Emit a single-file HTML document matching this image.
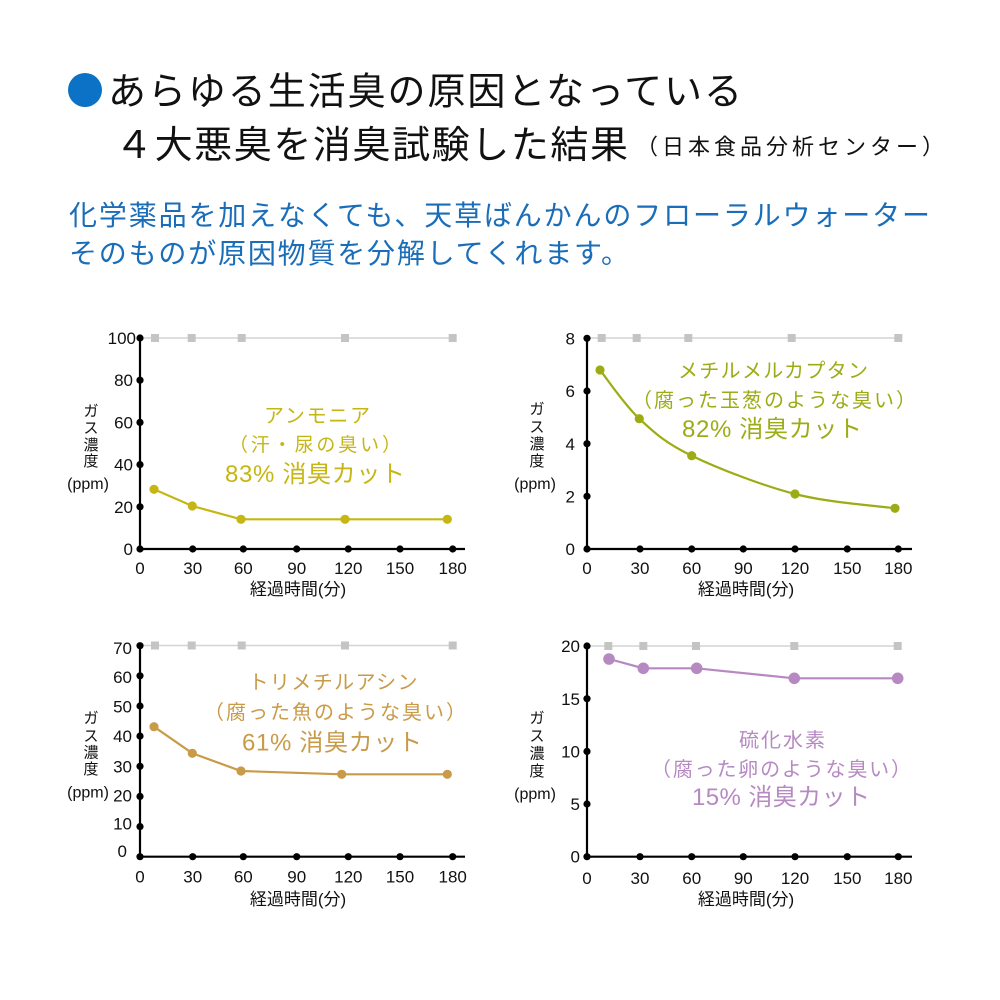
<!DOCTYPE html>
<html><head><meta charset="utf-8"><style>
html,body{margin:0;padding:0;background:#fff;}
svg{display:block;}
text{font-family:"Liberation Sans","Noto Sans CJK JP",sans-serif;}
</style></head><body>
<svg width="1000" height="1000" viewBox="0 0 1000 1000" xmlns="http://www.w3.org/2000/svg">
<rect width="1000" height="1000" fill="#fff"/>
<!-- Title -->
<circle cx="85" cy="90" r="17" fill="#0b72c6"/>
<text x="108" y="104.5" font-size="38" fill="#111" textLength="634" lengthAdjust="spacing">あらゆる生活臭の原因となっている</text>
<text x="115" y="158" font-size="38" fill="#111" textLength="513" lengthAdjust="spacing">４大悪臭を消臭試験した結果</text>
<text x="636" y="154.5" font-size="22" fill="#111" textLength="308" lengthAdjust="spacing">（日本食品分析センター）</text>
<!-- Subtitle -->
<text x="69" y="225" font-size="28" fill="#1a6db8" textLength="861" lengthAdjust="spacing">化学薬品を加えなくても、天草ばんかんのフローラルウォーター</text>
<text x="69" y="263" font-size="28" fill="#1a6db8" textLength="560" lengthAdjust="spacing">そのものが原因物質を分解してくれます。</text>

<!-- ===== Chart 1 ===== -->
<g>
<line x1="140" y1="338" x2="453" y2="338" stroke="#d4d4d4" stroke-width="1.5"/>
<g fill="#c4c4c4"><rect x="151" y="334" width="8" height="8"/><rect x="187.7" y="334" width="8" height="8"/><rect x="237.7" y="334" width="8" height="8"/><rect x="341" y="334" width="8" height="8"/><rect x="448.7" y="334" width="8" height="8"/></g>
<line x1="140" y1="336" x2="140" y2="550" stroke="#000" stroke-width="2.2"/>
<line x1="139" y1="549" x2="465" y2="549" stroke="#000" stroke-width="2.2"/>
<g fill="#000">
<circle cx="140" cy="338" r="3.6"/><circle cx="140" cy="380.2" r="3.6"/><circle cx="140" cy="422.4" r="3.6"/><circle cx="140" cy="464.6" r="3.6"/><circle cx="140" cy="506.8" r="3.6"/><circle cx="140" cy="549" r="3.6"/>
<circle cx="192.7" cy="549" r="3.6"/><circle cx="243.3" cy="549" r="3.6"/><circle cx="296.7" cy="549" r="3.6"/><circle cx="348.3" cy="549" r="3.6"/><circle cx="400" cy="549" r="3.6"/><circle cx="452.7" cy="549" r="3.6"/>
</g>
<g font-size="17" fill="#111" text-anchor="end">
<text x="136" y="344">100</text><text x="133" y="386">80</text><text x="133" y="428.5">60</text><text x="133" y="470.5">40</text><text x="133" y="513">20</text><text x="133" y="555">0</text>
</g>
<g font-size="17" fill="#111" text-anchor="middle">
<text x="140" y="574">0</text><text x="192.7" y="574">30</text><text x="243.3" y="574">60</text><text x="296.7" y="574">90</text><text x="348.3" y="574">120</text><text x="400" y="574">150</text><text x="452.7" y="574">180</text>
</g>
<text x="298" y="595" font-size="17" fill="#111" text-anchor="middle">経過時間(分)</text>
<g font-size="15" fill="#111" text-anchor="middle">
<text x="91" y="416">ガ</text><text x="91" y="433">ス</text><text x="91" y="450">濃</text><text x="91" y="466">度</text>
</g>
<text x="88" y="489" font-size="16" fill="#111" text-anchor="middle">(ppm)</text>
<polyline points="154,489.3 192.3,506 241,519.3 345,519.3 447.3,519.3" fill="none" stroke="#c6b614" stroke-width="2.2"/>
<g fill="#c6b614"><circle cx="154" cy="489.3" r="4.6"/><circle cx="192.3" cy="506" r="4.6"/><circle cx="241" cy="519.3" r="4.6"/><circle cx="345" cy="519.3" r="4.6"/><circle cx="447.3" cy="519.3" r="4.6"/></g>
<g fill="#c6b614" text-anchor="middle">
<text x="317" y="422.5" font-size="20" textLength="106" lengthAdjust="spacing">アンモニア</text>
<text x="315" y="451" font-size="19" textLength="172" lengthAdjust="spacing">（汗・尿の臭い）</text>
<text x="315" y="482" font-size="24" textLength="180" lengthAdjust="spacing">83% 消臭カット</text>
</g>
</g>

<!-- ===== Chart 2 ===== -->
<g>
<line x1="587" y1="338" x2="898" y2="338" stroke="#d4d4d4" stroke-width="1.5"/>
<g fill="#c4c4c4"><rect x="597.7" y="334" width="8" height="8"/><rect x="632.7" y="334" width="8" height="8"/><rect x="684.3" y="334" width="8" height="8"/><rect x="787.7" y="334" width="8" height="8"/><rect x="894.3" y="334" width="8" height="8"/></g>
<line x1="587" y1="336" x2="587" y2="550" stroke="#000" stroke-width="2.2"/>
<line x1="586" y1="549" x2="912" y2="549" stroke="#000" stroke-width="2.2"/>
<g fill="#000">
<circle cx="587" cy="338.3" r="3.6"/><circle cx="587" cy="391" r="3.6"/><circle cx="587" cy="443.7" r="3.6"/><circle cx="587" cy="496.3" r="3.6"/><circle cx="587" cy="549" r="3.6"/>
<circle cx="640" cy="549" r="3.6"/><circle cx="691.7" cy="549" r="3.6"/><circle cx="743.3" cy="549" r="3.6"/><circle cx="795" cy="549" r="3.6"/><circle cx="847.3" cy="549" r="3.6"/><circle cx="898.3" cy="549" r="3.6"/>
</g>
<g font-size="17" fill="#111" text-anchor="end">
<text x="575" y="344.5">8</text><text x="575" y="397">6</text><text x="575" y="450">4</text><text x="575" y="502.5">2</text><text x="575" y="555">0</text>
</g>
<g font-size="17" fill="#111" text-anchor="middle">
<text x="587" y="574">0</text><text x="640" y="574">30</text><text x="691.7" y="574">60</text><text x="743.3" y="574">90</text><text x="795" y="574">120</text><text x="847.3" y="574">150</text><text x="898.3" y="574">180</text>
</g>
<text x="746" y="595" font-size="17" fill="#111" text-anchor="middle">経過時間(分)</text>
<g font-size="15" fill="#111" text-anchor="middle">
<text x="537" y="414">ガ</text><text x="537" y="432">ス</text><text x="537" y="449">濃</text><text x="537" y="466">度</text>
</g>
<text x="535" y="489" font-size="16" fill="#111" text-anchor="middle">(ppm)</text>
<path d="M600,370 C606.55,378.1 624,404.4 639.3,418.7 C654.6,433 665.75,443.15 691.7,455.7 C717.65,468.25 761.1,485.2 795,494 C828.9,502.8 878.3,505.9 895,508.3" fill="none" stroke="#9cac14" stroke-width="2.2"/>
<g fill="#9cac14"><circle cx="600" cy="370" r="4.6"/><circle cx="639.3" cy="418.7" r="4.6"/><circle cx="691.7" cy="455.7" r="4.6"/><circle cx="795" cy="494" r="4.6"/><circle cx="895" cy="508.3" r="4.6"/></g>
<g fill="#9cac14" text-anchor="middle">
<text x="773" y="377.5" font-size="20" textLength="190" lengthAdjust="spacing">メチルメルカプタン</text>
<text x="774" y="407" font-size="20" textLength="284" lengthAdjust="spacing">（腐った玉葱のような臭い）</text>
<text x="772" y="437" font-size="24" textLength="180" lengthAdjust="spacing">82% 消臭カット</text>
</g>
</g>

<!-- ===== Chart 3 ===== -->
<g>
<line x1="140" y1="645.5" x2="453" y2="645.5" stroke="#d4d4d4" stroke-width="1.5"/>
<g fill="#c4c4c4"><rect x="151" y="641.5" width="8" height="8"/><rect x="187.7" y="641.5" width="8" height="8"/><rect x="237.7" y="641.5" width="8" height="8"/><rect x="341" y="641.5" width="8" height="8"/><rect x="448.7" y="641.5" width="8" height="8"/></g>
<line x1="140" y1="643.5" x2="140" y2="857.7" stroke="#000" stroke-width="2.2"/>
<line x1="139" y1="856.7" x2="465" y2="856.7" stroke="#000" stroke-width="2.2"/>
<g fill="#000">
<circle cx="140" cy="645.7" r="3.6"/><circle cx="140" cy="675.8" r="3.6"/><circle cx="140" cy="706" r="3.6"/><circle cx="140" cy="736.1" r="3.6"/><circle cx="140" cy="766.3" r="3.6"/><circle cx="140" cy="796.4" r="3.6"/><circle cx="140" cy="826.6" r="3.6"/><circle cx="140" cy="856.7" r="3.6"/>
<circle cx="192.7" cy="856.7" r="3.6"/><circle cx="243.3" cy="856.7" r="3.6"/><circle cx="296.7" cy="856.7" r="3.6"/><circle cx="348.3" cy="856.7" r="3.6"/><circle cx="400" cy="856.7" r="3.6"/><circle cx="452.7" cy="856.7" r="3.6"/>
</g>
<g font-size="17" fill="#111" text-anchor="end">
<text x="132" y="654">70</text><text x="132" y="683">60</text><text x="132" y="712.5">50</text><text x="132" y="742">40</text><text x="132" y="772.5">30</text><text x="132" y="801.5">20</text><text x="132" y="829.5">10</text><text x="127" y="857">0</text>
</g>
<g font-size="17" fill="#111" text-anchor="middle">
<text x="140" y="882.7">0</text><text x="192.7" y="882.7">30</text><text x="243.3" y="882.7">60</text><text x="296.7" y="882.7">90</text><text x="348.3" y="882.7">120</text><text x="400" y="882.7">150</text><text x="452.7" y="882.7">180</text>
</g>
<text x="298" y="905" font-size="17" fill="#111" text-anchor="middle">経過時間(分)</text>
<g font-size="15" fill="#111" text-anchor="middle">
<text x="91" y="723">ガ</text><text x="91" y="741">ス</text><text x="91" y="757.5">濃</text><text x="91" y="774">度</text>
</g>
<text x="88" y="797.5" font-size="16" fill="#111" text-anchor="middle">(ppm)</text>
<polyline points="154,726.7 192.3,753.3 241,771 341.7,774.3 447.3,774.3" fill="none" stroke="#c99a48" stroke-width="2.2"/>
<g fill="#c99a48"><circle cx="154" cy="726.7" r="4.6"/><circle cx="192.3" cy="753.3" r="4.6"/><circle cx="241" cy="771" r="4.6"/><circle cx="341.7" cy="774.3" r="4.6"/><circle cx="447.3" cy="774.3" r="4.6"/></g>
<g fill="#c99a48" text-anchor="middle">
<text x="333" y="689" font-size="20" textLength="169" lengthAdjust="spacing">トリメチルアシン</text>
<text x="335" y="719" font-size="20" textLength="262" lengthAdjust="spacing">（腐った魚のような臭い）</text>
<text x="332" y="750.5" font-size="24" textLength="180" lengthAdjust="spacing">61% 消臭カット</text>
</g>
</g>

<!-- ===== Chart 4 ===== -->
<g>
<line x1="587" y1="646" x2="898" y2="646" stroke="#d4d4d4" stroke-width="1.5"/>
<g fill="#c4c4c4"><rect x="604.3" y="642" width="8" height="8"/><rect x="639.3" y="642" width="8" height="8"/><rect x="692" y="642" width="8" height="8"/><rect x="790.3" y="642" width="8" height="8"/><rect x="893.7" y="642" width="8" height="8"/></g>
<line x1="587" y1="644" x2="587" y2="857.7" stroke="#000" stroke-width="2.2"/>
<line x1="586" y1="856.7" x2="912" y2="856.7" stroke="#000" stroke-width="2.2"/>
<g fill="#000">
<circle cx="587" cy="646" r="3.6"/><circle cx="587" cy="698.7" r="3.6"/><circle cx="587" cy="751.4" r="3.6"/><circle cx="587" cy="804" r="3.6"/><circle cx="587" cy="856.7" r="3.6"/>
<circle cx="640" cy="856.7" r="3.6"/><circle cx="691.7" cy="856.7" r="3.6"/><circle cx="743.3" cy="856.7" r="3.6"/><circle cx="795" cy="856.7" r="3.6"/><circle cx="847.3" cy="856.7" r="3.6"/><circle cx="898.3" cy="856.7" r="3.6"/>
</g>
<g font-size="17" fill="#111" text-anchor="end">
<text x="580" y="652">20</text><text x="580" y="705">15</text><text x="580" y="757.5">10</text><text x="580" y="810">5</text><text x="580" y="862.5">0</text>
</g>
<g font-size="17" fill="#111" text-anchor="middle">
<text x="587" y="884">0</text><text x="640" y="884">30</text><text x="691.7" y="884">60</text><text x="743.3" y="884">90</text><text x="795" y="884">120</text><text x="847.3" y="884">150</text><text x="898.3" y="884">180</text>
</g>
<text x="746" y="905" font-size="17" fill="#111" text-anchor="middle">経過時間(分)</text>
<g font-size="15" fill="#111" text-anchor="middle">
<text x="537" y="723">ガ</text><text x="537" y="741">ス</text><text x="537" y="758.5">濃</text><text x="537" y="776">度</text>
</g>
<text x="535" y="799" font-size="16" fill="#111" text-anchor="middle">(ppm)</text>
<polyline points="609,659 643.3,668.3 696.7,668.3 794.3,678.3 897.7,678.3" fill="none" stroke="#b689c2" stroke-width="2.2"/>
<g fill="#b689c2"><circle cx="609" cy="659" r="5.8"/><circle cx="643.3" cy="668.3" r="5.8"/><circle cx="696.7" cy="668.3" r="5.8"/><circle cx="794.3" cy="678.3" r="5.8"/><circle cx="897.7" cy="678.3" r="5.8"/></g>
<g fill="#b689c2" text-anchor="middle">
<text x="782" y="747" font-size="20" textLength="86" lengthAdjust="spacing">硫化水素</text>
<text x="781" y="776" font-size="20" textLength="260" lengthAdjust="spacing">（腐った卵のような臭い）</text>
<text x="781" y="805" font-size="24" textLength="178" lengthAdjust="spacing">15% 消臭カット</text>
</g>
</g>
</svg>
</body></html>
